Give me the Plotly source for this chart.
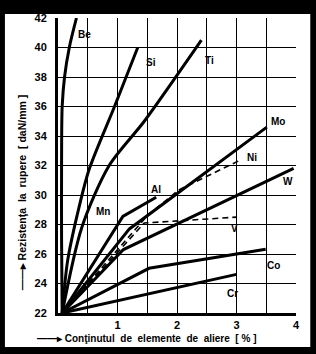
import plotly.graph_objects as go

# ---- data ----
be_x = [0.07, 0.06, 0.06, 0.07, 0.11, 0.19, 0.31]
be_y = [22, 27, 32, 36, 38, 40, 42]
si_x = [0.07, 0.16, 0.32, 0.52, 0.95, 1.34]
si_y = [22, 25.5, 28.6, 31.7, 36, 40]
ti_x = [0.07, 0.40, 0.86, 1.45, 2.41]
ti_y = [22, 27.8, 32, 35, 40.5]
al_x = [0.07, 1.09, 1.65]
al_y = [22, 28.55, 29.85]
mo_x = [0.07, 1.20, 3.51]
mo_y = [22, 27.7, 34.6]
ni_x = [0.07, 1.50, 2.03, 3.08]
ni_y = [22, 28.6, 30.34, 32.4]
w_x = [0.07, 1.10, 3.96]
w_y = [22, 26.3, 31.8]
v_x = [0.07, 1.45, 3.0]
v_y = [22, 28.1, 28.5]
co_x = [0.07, 1.53, 3.49]
co_y = [22, 25.03, 26.32]
cr_x = [0.07, 3.0]
cr_y = [22, 24.62]

labels = ["Be", "Si", "Ti", "Mn", "Al", "Mo", "Ni", "W", "V", "Co", "Cr"]
label_x = [0.44, 1.56, 2.55, 0.75, 1.65, 3.69, 3.26, 3.86, 2.96, 3.63, 2.93]
label_y = [40.85, 39.0, 39.15, 28.87, 30.4, 34.97, 32.56, 30.9, 27.74, 25.25, 23.3]

y_ticks = list(range(22, 43, 2))
x_ticks = [1, 2, 3, 4]

FONT = "Liberation Sans"

fig = go.Figure()

solid = [(be_x, be_y, "spline"), (si_x, si_y, "spline"), (ti_x, ti_y, "spline"),
         (al_x, al_y, "linear"), (mo_x, mo_y, "linear"), (w_x, w_y, "linear"),
         (co_x, co_y, "linear"), (cr_x, cr_y, "linear")]
for xs, ys, shp in solid:
    fig.add_trace(go.Scatter(x=xs, y=ys, mode="lines",
                             line=dict(color="black", width=3, shape=shp, smoothing=0.8),
                             showlegend=False, hoverinfo="skip"))
for xs, ys in [(ni_x, ni_y), (v_x, v_y)]:
    fig.add_trace(go.Scatter(x=xs, y=ys, mode="lines",
                             line=dict(color="black", width=1.6, dash="6px,4px"),
                             showlegend=False, hoverinfo="skip"))

for t, lx, ly in zip(labels, label_x, label_y):
    fig.add_annotation(x=lx, y=ly, text=t, showarrow=False,
                       font=dict(family=FONT, size=10, color="black", weight="bold"))

# axis titles
fig.add_annotation(xref="paper", yref="paper", x=-0.15, y=0.41,
                   xanchor="center", yanchor="middle",
                   text="——▸ Rezistenţa  la  rupere  [ daN/mm ]", textangle=-90,
                   showarrow=False,
                   font=dict(family=FONT, size=10.5, color="black", weight="bold"))
fig.add_annotation(xref="paper", yref="paper", x=0.37, y=-0.088,
                   xanchor="center", yanchor="middle",
                   text="——▸ Conţinutul  de  elemente  de  aliere  [ % ]",
                   showarrow=False,
                   font=dict(family=FONT, size=10, color="black", weight="bold"))

# white page inside the black frame
fig.add_shape(type="rect", xref="paper", yref="paper", layer="below",
              x0=-0.223, x1=1.06, y0=-0.115, y1=1.0136,
              fillcolor="white", line=dict(width=0))

fig.update_xaxes(range=[0, 4], tickmode="array", tickvals=x_ticks,
                 ticktext=[str(v) for v in x_ticks],
                 showgrid=True, gridcolor="black", gridwidth=1,
                 minor=dict(tickvals=[0.5, 1.5, 2.5, 3.5], showgrid=True,
                            gridcolor="black", gridwidth=1),
                 zeroline=False, showline=True, linecolor="black", linewidth=3,
                 ticks="", ticklabelstandoff=0,
                 tickfont=dict(family=FONT, size=11, color="black", weight="bold"))
fig.update_yaxes(range=[22, 42], tickvals=y_ticks,
                 showgrid=True, gridcolor="black", gridwidth=1,
                 zeroline=False, showline=True, linecolor="black", linewidth=3,
                 ticks="", ticklabelstandoff=6,
                 tickfont=dict(family=FONT, size=11, color="black", weight="bold"))

fig.update_layout(width=316, height=354, autosize=False,
                  margin=dict(l=58, r=20, t=18, b=41),
                  paper_bgcolor="black", plot_bgcolor="white",
                  showlegend=False)

fig.write_html("out.html")
